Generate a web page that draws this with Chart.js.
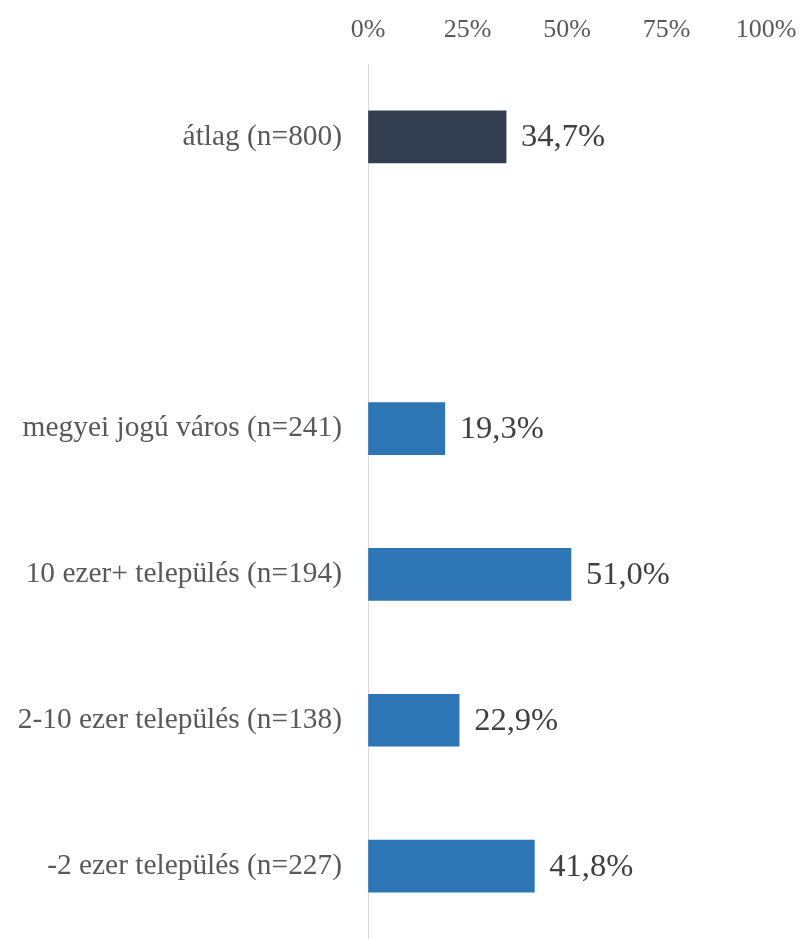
<!DOCTYPE html>
<html>
<head>
<meta charset="utf-8">
<script src="https://cdn.jsdelivr.net/npm/chart.js@4/dist/chart.umd.min.js"></script>
<style>
  html, body { margin: 0; padding: 0; background: #fff; overflow: hidden; }
  #wrap { position: relative; width: 802px; height: 939px; }
</style>
</head>
<body>
<div id="wrap"><canvas id="chart"></canvas></div>
<script>
// categories (empty slot keeps the gap under the average row)
const categories = [
  'átlag (n=800)',
  '',
  'megyei jogú város (n=241)',
  '10 ezer+ település (n=194)',
  '2-10 ezer település (n=138)',
  '-2 ezer település (n=227)'
];
const values = [34.7, null, 19.3, 51.0, 22.9, 41.8];
const tickValues = [0, 25, 50, 75, 100];

const FONT = '"Liberation Serif", "Times New Roman", serif';

// value labels at the end of each bar
const barLabels = {
  id: 'barLabels',
  afterDatasetsDraw(chart) {
    const ctx = chart.ctx;
    const meta = chart.getDatasetMeta(0);
    ctx.save();
    ctx.font = '32.5px ' + FONT;
    ctx.fillStyle = '#404040';
    ctx.textAlign = 'left';
    ctx.textBaseline = 'middle';
    meta.data.forEach((bar, i) => {
      const v = values[i];
      if (v == null) return;
      ctx.fillText(v.toFixed(1).replace('.', ',') + '%', bar.x + 15, bar.y + 1);
    });
    ctx.restore();
  }
};

new Chart(document.getElementById('chart'), {
  type: 'bar',
  data: {
    labels: categories,
    datasets: [{
      data: values,
      backgroundColor: values.map((v, i) => (i === 0 ? '#333F50' : '#2E75B6')),
      barThickness: 52
    }]
  },
  options: {
    indexAxis: 'y',
    responsive: true,
    maintainAspectRatio: false,
    animation: false,
    layout: { padding: { left: 0, right: 36, top: 0, bottom: 0 } },
    plugins: {
      legend: { display: false },
      tooltip: { enabled: false }
    },
    scales: {
      x: {
        position: 'top',
        min: 0,
        max: 100,
        afterBuildTicks: (scale) => { scale.ticks = tickValues.map((v) => ({ value: v })); },
        afterFit: (scale) => {
          scale.height = 64;
          scale.paddingLeft = 0;
          scale.paddingRight = 0;
        },
        ticks: {
          callback: (v) => v + '%',
          color: '#595959',
          font: { family: FONT, size: 26 },
          padding: 18,
          maxRotation: 0
        },
        grid: { display: true, drawOnChartArea: false, drawTicks: false },
        border: { display: false }
      },
      y: {
        afterFit: (scale) => {
          scale.width = 368;
          scale.paddingTop = 0;
          scale.paddingBottom = 0;
        },
        ticks: {
          color: '#595959',
          font: { family: FONT, size: 29.4 },
          padding: 26,
          autoSkip: false
        },
        grid: { display: true, drawOnChartArea: false, drawTicks: false },
        border: { display: true, color: '#d9d9d9', width: 1 }
      }
    }
  },
  plugins: [barLabels]
});
</script>
</body>
</html>
